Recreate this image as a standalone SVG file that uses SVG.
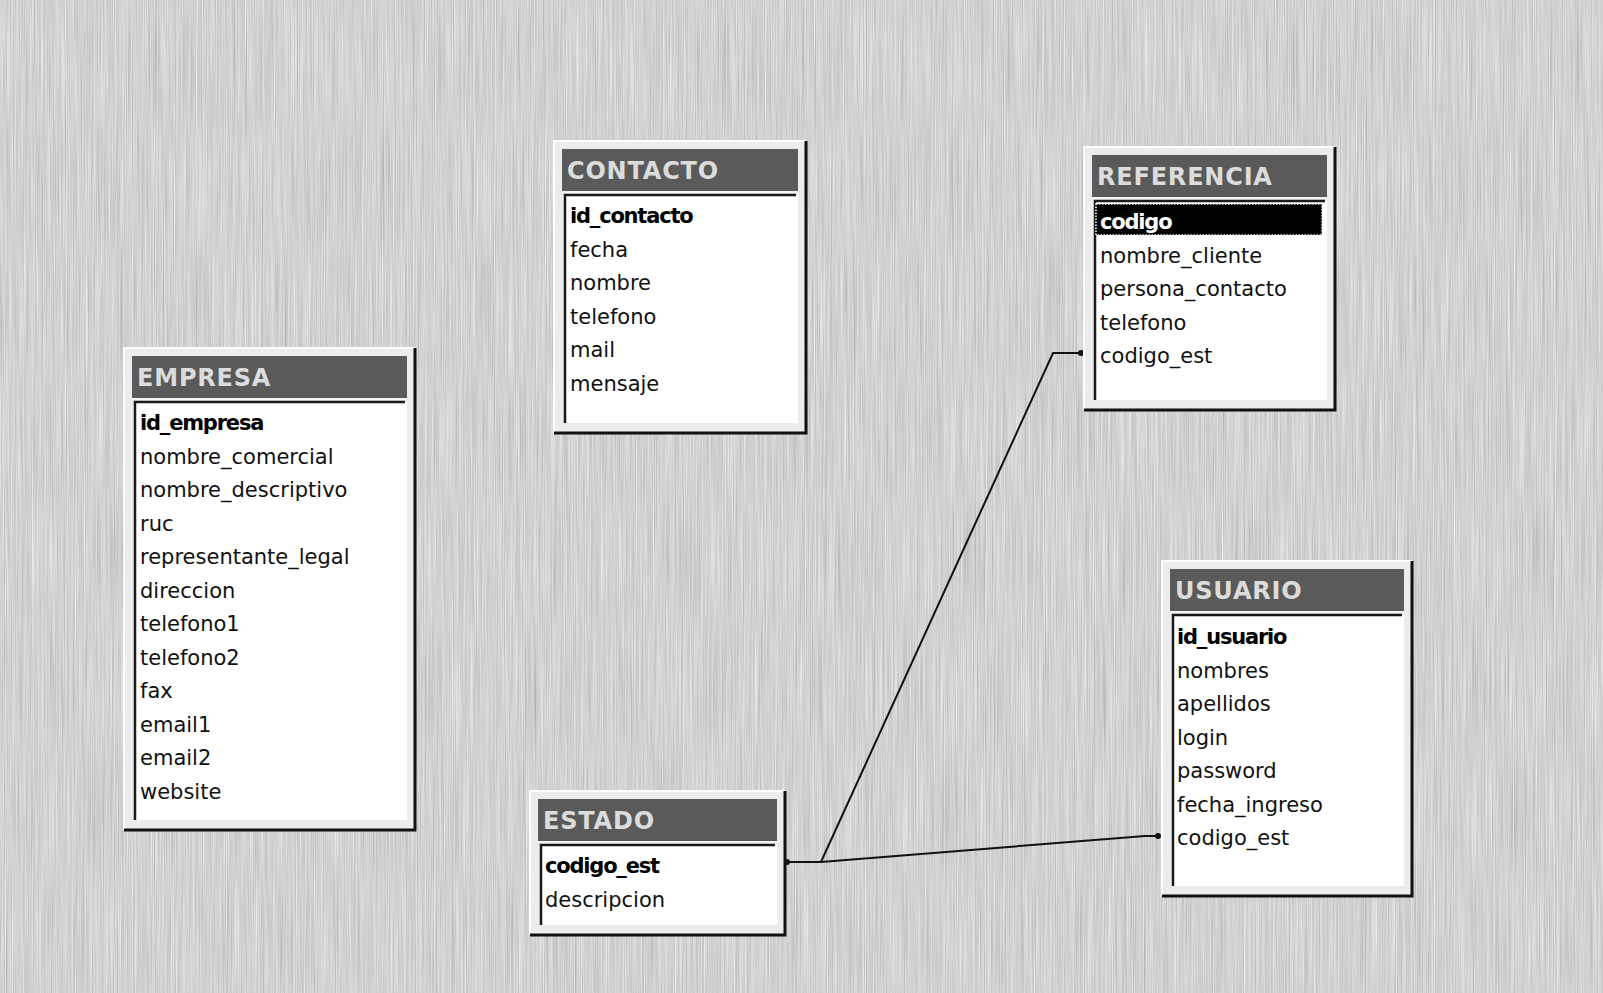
<svg xmlns="http://www.w3.org/2000/svg" width="1603" height="993" viewBox="0 0 1603 993">
<style>
.frame{fill:#ececec}
.hl{fill:none;stroke:#ffffff;stroke-width:2}
.sh{fill:none;stroke:#111;stroke-width:3}
.title{fill:#5a5a5a}
.tline{fill:none;stroke:#f4f4f4;stroke-width:2}
.body{fill:#ffffff}
.inset{fill:none;stroke:#1a1a1a;stroke-width:2.5}
.tt{font-family:"DejaVu Sans",sans-serif;font-weight:bold;font-size:24px;fill:#dcdcdc;letter-spacing:0.8px}
.f{font-family:"DejaVu Sans",sans-serif;font-size:21px;fill:#111}
.pk{font-family:"DejaVu Sans",sans-serif;font-size:21px;font-weight:bold;fill:#000;letter-spacing:-1.2px}
.conn{fill:none;stroke:#111;stroke-width:2}
.dot{fill:#111}
</style>
<defs>
<filter id="tex" x="0" y="0" width="100%" height="100%" filterUnits="userSpaceOnUse" color-interpolation-filters="sRGB">
<feTurbulence type="fractalNoise" baseFrequency="0.9 0.008" numOctaves="3" seed="7"/>
<feColorMatrix type="matrix" values="0.33 0.33 0.33 0 0 0.33 0.33 0.33 0 0 0.33 0.33 0.33 0 0 0 0 0 0 1"/>
<feComponentTransfer>
<feFuncR type="linear" slope="0.45" intercept="0.6"/>
<feFuncG type="linear" slope="0.45" intercept="0.6"/>
<feFuncB type="linear" slope="0.45" intercept="0.6"/>
</feComponentTransfer>
</filter>
</defs>
<rect x="0" y="0" width="1603" height="993" fill="#ffffff"/>
<rect x="8" y="10" width="1595" height="983" fill="#cccccc"/>
<rect x="8" y="10" width="1595" height="983" filter="url(#tex)"/>

<g id="connectors">
<path class="conn" d="M787,862 H821 L1053,353 H1081"/>
<path class="conn" d="M821,862 L1145,836 H1158"/>
<circle class="dot" cx="787" cy="862" r="3"/>
<circle class="dot" cx="1081" cy="353" r="3"/>
<circle class="dot" cx="1158" cy="836" r="3"/>
</g>

<g id="empresa">
<rect class="frame" x="124" y="348" width="291" height="482"/>
<path class="hl" d="M124,830 V348 H415"/>
<path class="sh" d="M415,348 V830 H124"/>
<rect class="title" x="132" y="356" width="275" height="42"/>
<path class="tline" d="M132,399 H407"/>
<rect class="body" x="134" y="402" width="273" height="418"/>
<path class="inset" d="M135,820 V402 H405"/>
<text class="tt" x="137" y="386">EMPRESA</text>
<text class="pk" x="140" y="430">id_empresa</text>
<text class="f" x="140" y="463.5">nombre_comercial</text>
<text class="f" x="140" y="497">nombre_descriptivo</text>
<text class="f" x="140" y="530.5">ruc</text>
<text class="f" x="140" y="564">representante_legal</text>
<text class="f" x="140" y="597.5">direccion</text>
<text class="f" x="140" y="631">telefono1</text>
<text class="f" x="140" y="664.5">telefono2</text>
<text class="f" x="140" y="698">fax</text>
<text class="f" x="140" y="731.5">email1</text>
<text class="f" x="140" y="765">email2</text>
<text class="f" x="140" y="798.5">website</text>
</g>

<g id="contacto">
<rect class="frame" x="554" y="141" width="252" height="292"/>
<path class="hl" d="M554,433 V141 H806"/>
<path class="sh" d="M806,141 V433 H554"/>
<rect class="title" x="562" y="149" width="236" height="42"/>
<path class="tline" d="M562,192 H798"/>
<rect class="body" x="564" y="195" width="234" height="228"/>
<path class="inset" d="M565,423 V195 H796"/>
<text class="tt" x="567" y="179">CONTACTO</text>
<text class="pk" x="570" y="223">id_contacto</text>
<text class="f" x="570" y="256.5">fecha</text>
<text class="f" x="570" y="290">nombre</text>
<text class="f" x="570" y="323.5">telefono</text>
<text class="f" x="570" y="357">mail</text>
<text class="f" x="570" y="390.5">mensaje</text>
</g>

<g id="referencia">
<rect class="frame" x="1084" y="147" width="251" height="263"/>
<path class="hl" d="M1084,410 V147 H1335"/>
<path class="sh" d="M1335,147 V410 H1084"/>
<rect class="title" x="1092" y="155" width="235" height="42"/>
<path class="tline" d="M1092,198 H1327"/>
<rect class="body" x="1094" y="201" width="233" height="199"/>
<path class="inset" d="M1095,400 V201 H1325"/>
<text class="tt" x="1097" y="185">REFERENCIA</text>
<rect x="1096" y="204" width="226" height="31" fill="#000" stroke="#fff" stroke-width="1.5" stroke-dasharray="1.5 1.5"/>
<text class="pk" x="1100" y="229" style="fill:#fff">codigo</text>
<text class="f" x="1100" y="262.5">nombre_cliente</text>
<text class="f" x="1100" y="296">persona_contacto</text>
<text class="f" x="1100" y="329.5">telefono</text>
<text class="f" x="1100" y="363">codigo_est</text>
</g>

<g id="usuario">
<rect class="frame" x="1162" y="561" width="250" height="335"/>
<path class="hl" d="M1162,896 V561 H1412"/>
<path class="sh" d="M1412,561 V896 H1162"/>
<rect class="title" x="1170" y="569" width="234" height="42"/>
<path class="tline" d="M1170,612 H1404"/>
<rect class="body" x="1172" y="615" width="232" height="271"/>
<path class="inset" d="M1173,886 V615 H1402"/>
<text class="tt" x="1175" y="599">USUARIO</text>
<text class="pk" x="1177" y="644">id_usuario</text>
<text class="f" x="1177" y="677.5">nombres</text>
<text class="f" x="1177" y="711">apellidos</text>
<text class="f" x="1177" y="744.5">login</text>
<text class="f" x="1177" y="778">password</text>
<text class="f" x="1177" y="811.5">fecha_ingreso</text>
<text class="f" x="1177" y="845">codigo_est</text>
</g>

<g id="estado">
<rect class="frame" x="530" y="791" width="255" height="144"/>
<path class="hl" d="M530,935 V791 H785"/>
<path class="sh" d="M785,791 V935 H530"/>
<rect class="title" x="538" y="799" width="239" height="42"/>
<path class="tline" d="M538,842 H777"/>
<rect class="body" x="540" y="845" width="237" height="80"/>
<path class="inset" d="M541,925 V845 H775"/>
<text class="tt" x="543" y="829">ESTADO</text>
<text class="pk" x="545" y="873">codigo_est</text>
<text class="f" x="545" y="906.5">descripcion</text>
</g>
</svg>
